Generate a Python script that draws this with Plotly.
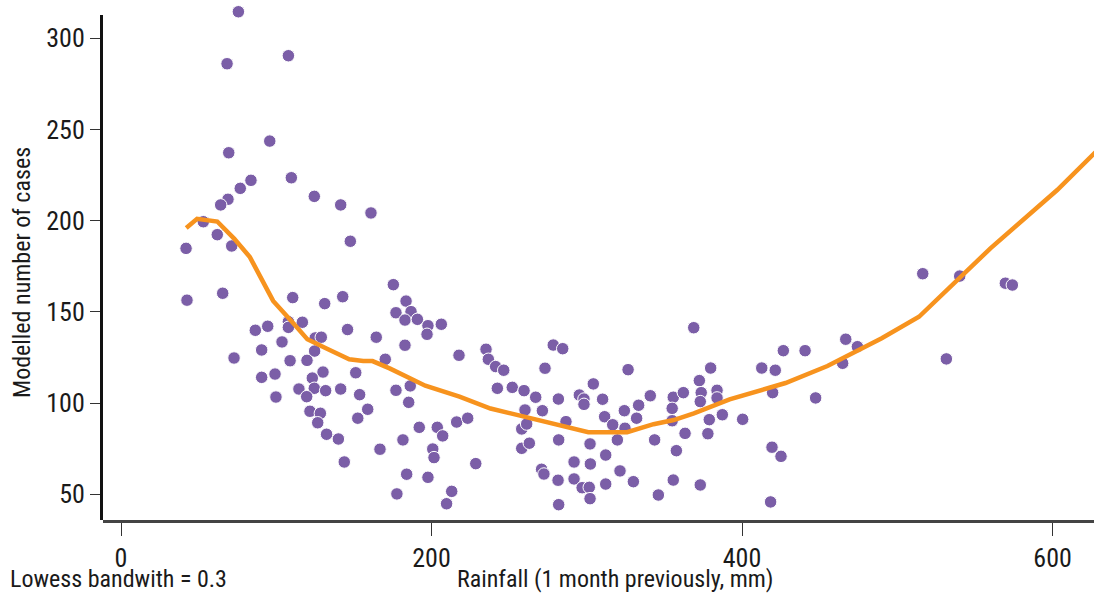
import plotly.graph_objects as go

# Observed data (rainfall 1 month previously, mm ; modelled number of cases)
rain = [75.6, 68.3, 107.8, 69.4, 95.8, 83.7, 76.8, 109.7, 68.9, 64.2, 124.5, 141.5, 161.0, 53.0, 62.0,
        71.3, 41.9, 147.7, 42.5, 65.5, 110.6, 131.2, 142.8, 145.9, 86.5, 94.5, 107.8, 107.8, 116.8, 103.7,
        90.6, 72.8, 125.1, 129.0, 124.7, 108.9, 119.8, 90.6, 99.2, 99.8, 130.1, 123.2, 114.6, 124.5, 131.8,
        141.5, 119.6, 121.7, 128.4, 126.7, 132.4, 140.0, 143.8,
        175.4, 183.6, 177.1, 186.8, 182.9, 190.9, 197.7, 197.1, 206.3, 164.4, 182.9, 151.2, 153.7, 158.9,
        152.5, 170.2, 177.1, 186.3, 185.3, 166.8, 181.6, 192.1, 203.7, 207.2, 200.8, 201.6, 184.0, 197.7,
        177.7, 213.0, 209.7, 216.2, 223.3, 217.7, 228.5, 235.1, 236.6, 241.3, 246.5, 242.4, 252.0, 259.6,
        267.1, 260.2, 271.4, 258.1, 261.3, 258.1, 263.0, 270.9, 272.4, 273.1, 278.4, 284.5,
        281.7, 286.6, 281.9, 281.5, 281.9, 291.8, 291.8, 297.0, 301.6, 302.1, 302.3, 302.1, 312.2, 312.2,
        295.2, 298.2, 298.2, 304.2, 310.2, 311.5, 316.7, 319.7, 324.6, 324.2, 326.6, 321.4, 330.0, 332.1,
        333.4, 340.9, 343.7, 346.1, 355.7, 355.0, 355.0, 362.2, 357.7, 355.7, 363.3, 368.9, 372.5, 373.7,
        373.1, 378.9, 378.0, 379.8, 383.9, 383.9, 387.3, 373.1, 400.4, 412.7, 421.4, 426.6, 419.7, 419.3,
        425.1, 418.4, 440.6, 447.4, 466.8, 474.3, 464.8, 516.4, 540.2, 569.6, 574.1, 531.6]
cases = [314.5, 286.0, 290.4, 237.2, 243.6, 222.1, 217.7, 223.5, 211.7, 208.6, 213.3, 208.6, 204.2, 199.4, 192.3,
         186.1, 184.8, 188.7, 156.4, 160.2, 157.8, 154.5, 158.3, 140.3, 139.9, 142.1, 144.6, 141.5, 144.3, 133.5,
         129.1, 124.7, 135.7, 136.1, 128.5, 123.2, 123.4, 114.1, 115.9, 103.3, 117.0, 113.7, 107.7, 108.1, 106.8,
         107.7, 103.5, 95.5, 94.4, 89.2, 82.9, 80.3, 67.7,
         164.9, 155.9, 149.5, 150.1, 145.5, 145.9, 142.4, 137.7, 143.2, 136.1, 131.7, 116.6, 104.6, 96.6,
         91.7, 124.0, 107.0, 109.4, 100.4, 74.7, 79.8, 86.7, 86.7, 82.0, 74.8, 70.1, 61.0, 59.3,
         50.2, 51.6, 44.8, 89.6, 91.7, 126.2, 66.8, 129.5, 124.0, 120.0, 118.0, 108.1, 108.6, 106.8,
         103.2, 96.2, 95.8, 85.8, 88.5, 75.2, 78.0, 63.7, 61.1, 119.1, 131.8, 129.8,
         102.2, 89.8, 79.8, 57.7, 44.3, 67.7, 58.4, 53.6, 53.8, 47.6, 66.6, 77.6, 71.5, 55.6,
         104.4, 102.2, 99.3, 110.5, 102.1, 92.5, 88.1, 79.8, 86.2, 95.8, 118.3, 62.8, 56.9, 91.7,
         98.8, 104.0, 79.8, 49.6, 103.2, 97.1, 90.3, 105.7, 73.9, 57.8, 83.4, 141.3, 112.3, 105.7,
         100.8, 90.9, 83.2, 119.2, 107.0, 102.8, 93.6, 55.1, 91.1, 119.2, 118.0, 128.7, 105.7, 75.8,
         70.8, 45.8, 128.7, 102.8, 135.0, 130.9, 121.8, 170.9, 169.6, 165.7, 164.7, 124.2]

# Lowess fit (bandwidth 0.3)
lowess_x = [42, 49, 62, 73, 83, 98, 111, 120, 132, 147, 156, 162, 173, 184, 196, 218, 238, 255, 276,
            301, 326, 343, 356, 369, 392, 412, 428, 455, 490, 514, 560, 603, 630]
lowess_y = [196, 201, 199.5, 190, 180, 156, 143.7, 135, 130, 124, 123, 123, 119, 114.5, 109.5, 103.5,
            97, 93.5, 89, 84, 84, 88.4, 90.7, 94.4, 102, 106.8, 111, 120.3, 135.5, 147.3, 184.8, 216.8, 239.5]

x_ticks = [0, 200, 400, 600]
y_ticks = [50, 100, 150, 200, 250, 300]
y_axis_top = 312.7
y_axis_bottom = 35.9

FONT = "Liberation Sans Narrow, Roboto Condensed, DejaVu Sans Condensed, sans-serif"
PURPLE = "#7B5EA7"
ORANGE = "#F7931E"
TXT = "#1a1a1a"

fig = go.Figure()
fig.add_trace(go.Scatter(
    x=rain, y=cases, mode="markers",
    marker=dict(size=12.5, color=PURPLE, line=dict(color="white", width=1)),
    showlegend=False, hoverinfo="x+y"))
fig.add_trace(go.Scatter(
    x=lowess_x, y=lowess_y, mode="lines",
    line=dict(color=ORANGE, width=4.5), showlegend=False))

PW, PH = 991, 515  # plot area size in px (l=103, t=5, b=75)

fig.update_layout(
    width=1094, height=595,
    margin=dict(l=103, r=0, t=5, b=75),
    paper_bgcolor="white", plot_bgcolor="white",
    font=dict(family=FONT, color=TXT),
    xaxis=dict(range=[-11.6, 626.7], tickvals=x_ticks, showgrid=False, zeroline=False,
               showline=True, linecolor="#444", linewidth=3,
               ticks="outside", ticklen=13, tickwidth=1, tickcolor="#333",
               tickfont=dict(size=26, family=FONT, color=TXT)),
    yaxis=dict(range=[y_axis_bottom, 318.2], tickvals=y_ticks, showgrid=False, zeroline=False,
               showline=False,
               ticks="outside", ticklen=12, tickwidth=1, tickcolor="#333",
               tickfont=dict(size=26, family=FONT, color=TXT)),
    shapes=[dict(type="line", xref="paper", yref="y", x0=-1.5 / PW, x1=-1.5 / PW,
                 y0=y_axis_bottom, y1=y_axis_top, line=dict(color="#111", width=3), layer="above")],
    annotations=[
        dict(text="Rainfall (1 month previously, mm)", xref="paper", yref="paper",
             x=(615 - 103) / PW, y=-(579 - 520) / PH, xanchor="center", yanchor="middle",
             showarrow=False, font=dict(size=24, family=FONT, color=TXT)),
        dict(text="Lowess bandwith = 0.3", xref="paper", yref="paper",
             x=-(103 - 8) / PW, y=-(579 - 520) / PH, xanchor="left", yanchor="middle",
             showarrow=False, font=dict(size=24, family=FONT, color=TXT)),
        dict(text="Modelled number of cases", xref="paper", yref="paper",
             x=-(103 - 22) / PW, y=(520 - 273) / PH, xanchor="center", yanchor="middle",
             textangle=-90, showarrow=False, font=dict(size=24, family=FONT, color=TXT)),
    ],
)

fig.write_html("out.html", config={"displayModeBar": False},
               post_script="document.body.style.margin='0';")
